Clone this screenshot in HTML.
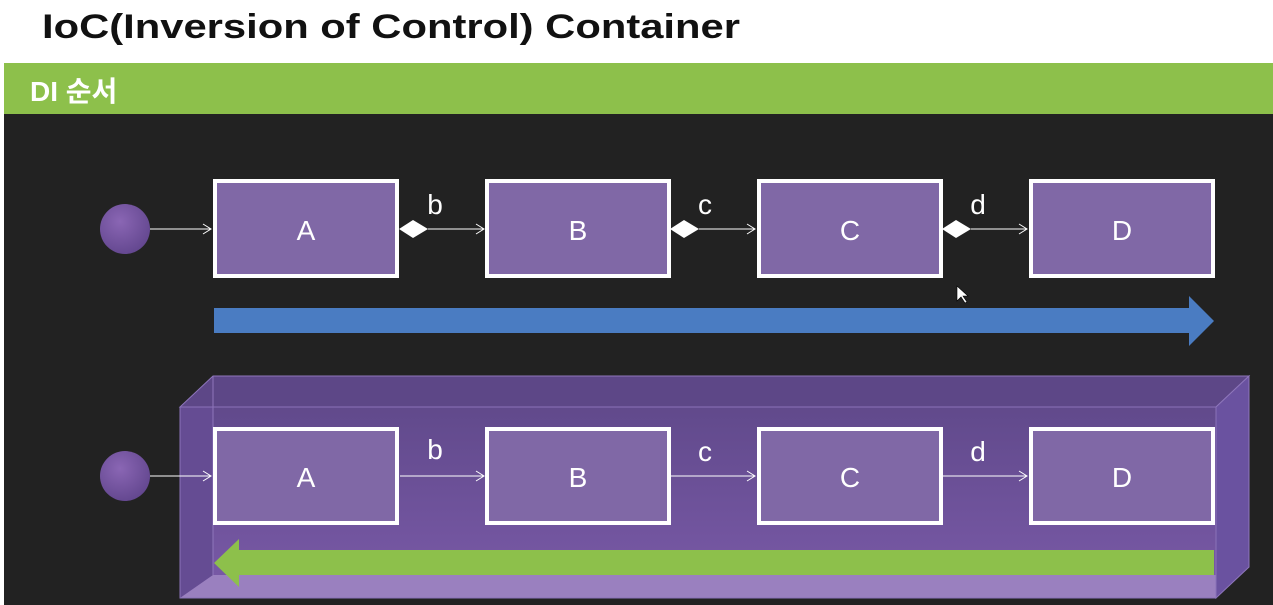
<!DOCTYPE html>
<html><head><meta charset="utf-8"><style>
body{margin:0;width:1273px;height:605px;overflow:hidden;background:#222;font-family:"Liberation Sans","Noto Sans CJK KR",sans-serif;}
</style></head><body>
<svg width="1273" height="605" xmlns="http://www.w3.org/2000/svg" style="position:absolute;left:0;top:0">
<defs>
<linearGradient id="cube" x1="0" y1="0" x2="0" y2="1"><stop offset="0" stop-color="#5d4787"/><stop offset="1" stop-color="#7a5aa8"/></linearGradient>
<radialGradient id="circ" cx="0.4" cy="0.35" r="0.7"><stop offset="0" stop-color="#8a66b4"/><stop offset="1" stop-color="#62468e"/></radialGradient>
</defs>
<rect x="0" y="0" width="1273" height="605" fill="#222"/>
<rect x="0" y="0" width="1273" height="63" fill="#fff"/>
<rect x="4" y="63" width="1269" height="51" fill="#8dc04b"/>
<rect x="0" y="63" width="4" height="542" fill="#fff"/>
<text x="42" y="38" font-size="34" font-weight="bold" fill="#111" textLength="698" lengthAdjust="spacingAndGlyphs">IoC(Inversion of Control) Container</text>
<text x="30" y="101" font-size="28" font-weight="bold" fill="#fff">DI 순서</text>

<g stroke="#fff" stroke-width="1" fill="none">
<line x1="150" y1="229" x2="211" y2="229"/><polyline points="203,224 211,229 203,234"/>
<line x1="428" y1="229" x2="484" y2="229"/><polyline points="476,224 484,229 476,234"/>
<line x1="699" y1="229" x2="755" y2="229"/><polyline points="747,224 755,229 747,234"/>
<line x1="971" y1="229" x2="1027" y2="229"/><polyline points="1019,224 1027,229 1019,234"/>
</g>
<g fill="#fff">
<polygon points="399,229 413,220 428,229 413,238"/>
<polygon points="670,229 684,220 699,229 684,238"/>
<polygon points="942,229 956,220 971,229 956,238"/>
</g>
<circle cx="125" cy="229" r="25" fill="url(#circ)"/>
<g fill="#8068a6" stroke="#fff" stroke-width="4">
<rect x="215" y="181" width="182" height="95"/>
<rect x="487" y="181" width="182" height="95"/>
<rect x="759" y="181" width="182" height="95"/>
<rect x="1031" y="181" width="182" height="95"/>
</g>
<g fill="#fff" font-size="28" text-anchor="middle">
<text x="306" y="240">A</text><text x="578" y="240">B</text><text x="850" y="240">C</text><text x="1122" y="240">D</text>
<text x="435" y="214">b</text><text x="705" y="214">c</text><text x="978" y="214">d</text>
</g>
<polygon points="214,308 1189,308 1189,296 1214,321 1189,346 1189,333 214,333" fill="#4a7cc2"/>

<polygon points="213,376 1249,376 1249,567 1216,598 180,598 180,407" fill="url(#cube)"/>
<polygon points="180,407 213,376 1249,376 1216,407" fill="#5d4787" stroke="#8e76bb" stroke-width="1"/>
<polygon points="1216,407 1249,376 1249,567 1216,598" fill="#6a52a0" stroke="#8e76bb" stroke-width="1"/>
<polygon points="180,407 213,407 213,575 180,598" fill="#654c93"/>
<polygon points="180,598 213,575 1216,575 1216,598" fill="#9a80bf"/>
<rect x="180" y="407" width="1036" height="191" fill="none" stroke="#8a72b8" stroke-width="1"/>
<line x1="213" y1="376" x2="213" y2="575" stroke="#8e76bb" stroke-width="1"/>
<polygon points="239,550 1214,550 1214,575 239,575 239,587 214,563 239,539" fill="#8dc04b"/>
<g stroke="#fff" stroke-width="1" fill="none">
<line x1="150" y1="476" x2="211" y2="476"/><polyline points="203,471 211,476 203,481"/>
<line x1="400" y1="476" x2="484" y2="476"/><polyline points="476,471 484,476 476,481"/>
<line x1="942" y1="476" x2="1027" y2="476"/><polyline points="1019,471 1027,476 1019,481"/>
<line x1="671" y1="476" x2="755" y2="476"/><polyline points="747,471 755,476 747,481"/>
</g>
<circle cx="125" cy="476" r="25" fill="url(#circ)"/>
<g fill="#8068a6" stroke="#fff" stroke-width="4">
<rect x="215" y="429" width="182" height="94"/>
<rect x="487" y="429" width="182" height="94"/>
<rect x="759" y="429" width="182" height="94"/>
<rect x="1031" y="429" width="182" height="94"/>
</g>
<g fill="#fff" font-size="28" text-anchor="middle">
<text x="306" y="487">A</text><text x="578" y="487">B</text><text x="850" y="487">C</text><text x="1122" y="487">D</text>
<text x="435" y="459">b</text><text x="705" y="461">c</text><text x="978" y="461">d</text>
</g>
<polygon points="957,286 957,301 961,297 965,303 967,302 963,296 968,296" fill="#fff" stroke="#000" stroke-width="0.6"/>
</svg>
</body></html>
